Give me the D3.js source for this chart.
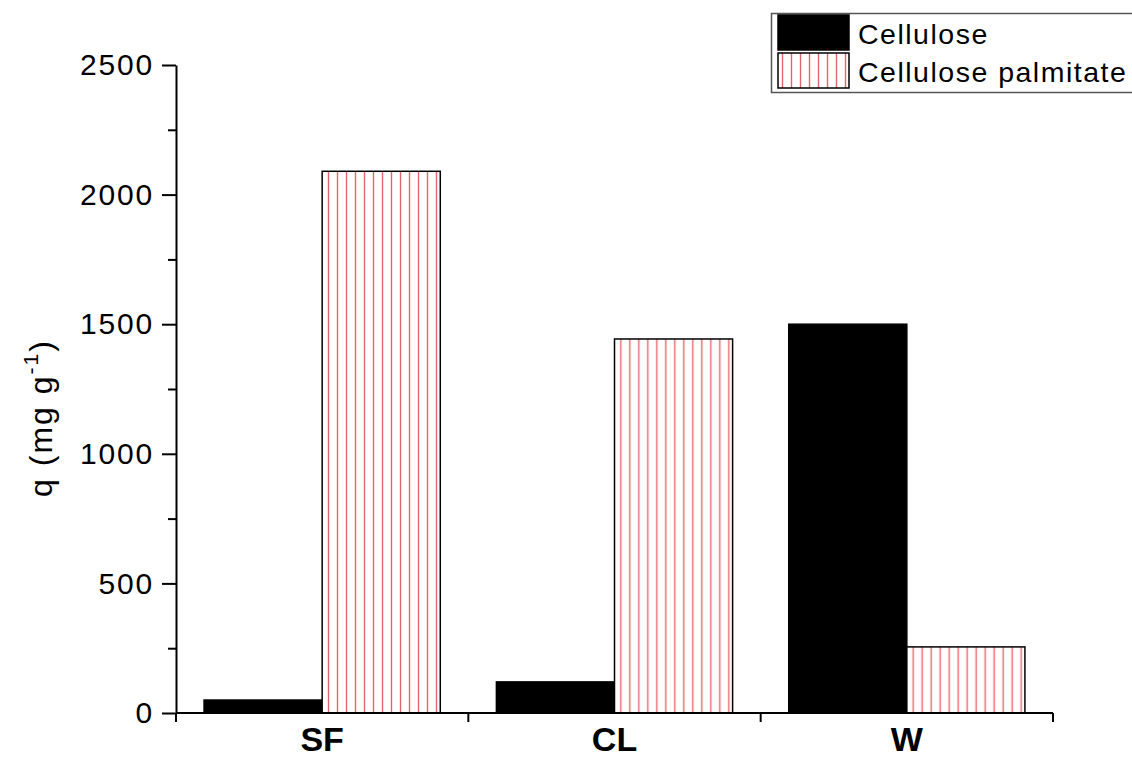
<!DOCTYPE html>
<html>
<head>
  <style>
    body {
      margin: 0;
      background: white;
    }
    text {
      font-family: "Liberation Sans", Arial, sans-serif;
    }
  </style>
</head>
<body>
  <div id="chart"></div>

  <script src="https://d3js.org/d3.v7.min.js"></script>
  <script>
  // data
  const categories = ["SF", "CL", "W"];
  const seriesNames = ["Cellulose", "Cellulose palmitate"];
  const cellulose = [50, 120, 1500];
  const palmitate = [2090, 1443, 255];
  const yTicks = [0, 500, 1000, 1500, 2000, 2500];
  const yMinorTicks = [250, 750, 1250, 1750, 2250];

  const width = 1132, height = 758;
  const margin = {top: 65, right: 79, bottom: 45, left: 176};

  const svg = d3.select("#chart")
    .append("svg")
      .attr("width", width)
      .attr("height", height);

  // stripe pattern for the palmitate bars
  const defs = svg.append("defs");
  const pat = defs.append("pattern")
      .attr("id", "stripes")
      .attr("patternUnits", "userSpaceOnUse")
      .attr("width", 9)
      .attr("height", 10)
      .attr("x", 4);
  pat.append("rect")
      .attr("width", 9)
      .attr("height", 10)
      .attr("fill", "white");
  pat.append("line")
      .attr("x1", 4.5).attr("x2", 4.5)
      .attr("y1", 0).attr("y2", 10)
      .attr("stroke", "#e8646b")
      .attr("stroke-width", 1.4);

  const x0 = d3.scaleBand()
    .domain(categories)
    .range([margin.left, width - margin.right])
    .padding(0);

  const pad = x0.bandwidth() * 0.096;
  const x1 = d3.scaleBand()
    .domain(seriesNames)
    .range([pad, x0.bandwidth() - pad]);

  const y = d3.scaleLinear()
    .domain([0, 2500])
    .range([height - 45, margin.top]);

  const fills = {"Cellulose": "black", "Cellulose palmitate": "url(#stripes)"};

  const rows = categories.map((c, i) => ({
    cat: c,
    vals: [
      {name: seriesNames[0], v: cellulose[i]},
      {name: seriesNames[1], v: palmitate[i]}
    ]
  }));

  // bars
  const groups = svg.selectAll("g.grp")
    .data(rows)
    .join("g")
      .attr("class", "grp")
      .attr("transform", d => "translate(" + x0(d.cat) + ",0)");

  groups.selectAll("rect")
    .data(d => d.vals)
    .join("rect")
      .attr("x", d => x1(d.name))
      .attr("width", x1.bandwidth())
      .attr("y", d => y(d.v))
      .attr("height", d => y(0) - y(d.v))
      .attr("fill", d => fills[d.name])
      .attr("stroke", "black")
      .attr("stroke-width", 1.5);

  // y axis
  const yAxis = svg.append("g")
      .attr("transform", "translate(" + margin.left + ",0)")
      .call(d3.axisLeft(y).tickValues(yTicks).tickFormat(d3.format("d"))
        .tickSize(14).tickPadding(8).tickSizeOuter(0));
  yAxis.selectAll("text")
      .attr("font-size", 30)
      .attr("letter-spacing", 1.8)
      .attr("font-family", null)
      .attr("fill", "black");

  svg.append("g")
      .attr("transform", "translate(" + margin.left + ",0)")
      .call(d3.axisLeft(y).tickValues(yMinorTicks).tickSize(8).tickFormat("").tickSizeOuter(0))
      .select(".domain").remove();

  // x axis
  const xTickPos = categories.map(c => x0(c)).concat([x0.range()[1]]);
  const xAxis = svg.append("g")
      .attr("transform", "translate(0," + y(0) + ")");
  xAxis.append("line")
      .attr("x1", margin.left).attr("x2", x0.range()[1])
      .attr("stroke", "black").attr("stroke-width", 2);
  xAxis.selectAll("line.tk")
    .data(xTickPos)
    .join("line")
      .attr("class", "tk")
      .attr("x1", d => d).attr("x2", d => d)
      .attr("y1", 0).attr("y2", 9)
      .attr("stroke", "black").attr("stroke-width", 2);
  xAxis.selectAll("text")
    .data(categories)
    .join("text")
      .attr("x", d => x0(d) + x0.bandwidth() / 2)
      .attr("y", 38)
      .attr("text-anchor", "middle")
      .attr("font-weight", "bold")
      .attr("font-size", 34)
      .text(d => d);

  svg.selectAll(".domain, .tick line")
      .attr("stroke", "black")
      .attr("stroke-width", 2);

  // y title
  const yt = svg.append("text")
      .attr("transform", "translate(52,418) rotate(-90)")
      .attr("text-anchor", "middle")
      .attr("font-size", 32)
      .attr("letter-spacing", 2);
  yt.append("tspan").text("q (mg g");
  yt.append("tspan").attr("font-size", 21).attr("dy", -14).text("-1");
  yt.append("tspan").attr("dy", 14).text(")");

  // legend
  const leg = svg.append("g");
  leg.append("rect")
      .attr("x", 771.5).attr("y", 13.5)
      .attr("width", 370).attr("height", 79)
      .attr("fill", "white")
      .attr("stroke", "#555")
      .attr("stroke-width", 1.5);
  const legItems = leg.selectAll("g.item")
    .data(seriesNames)
    .join("g")
      .attr("class", "item")
      .attr("transform", (d, i) => "translate(0," + (i * 38) + ")");
  legItems.append("rect")
      .attr("x", 778).attr("y", 15)
      .attr("width", 71).attr("height", 35)
      .attr("fill", d => fills[d])
      .attr("stroke", "black")
      .attr("stroke-width", 1.5);
  legItems.append("text")
      .attr("x", 858).attr("y", 44)
      .attr("font-size", 28.5)
      .attr("letter-spacing", 1.5)
      .text(d => d);
  </script>
</body>
</html>
